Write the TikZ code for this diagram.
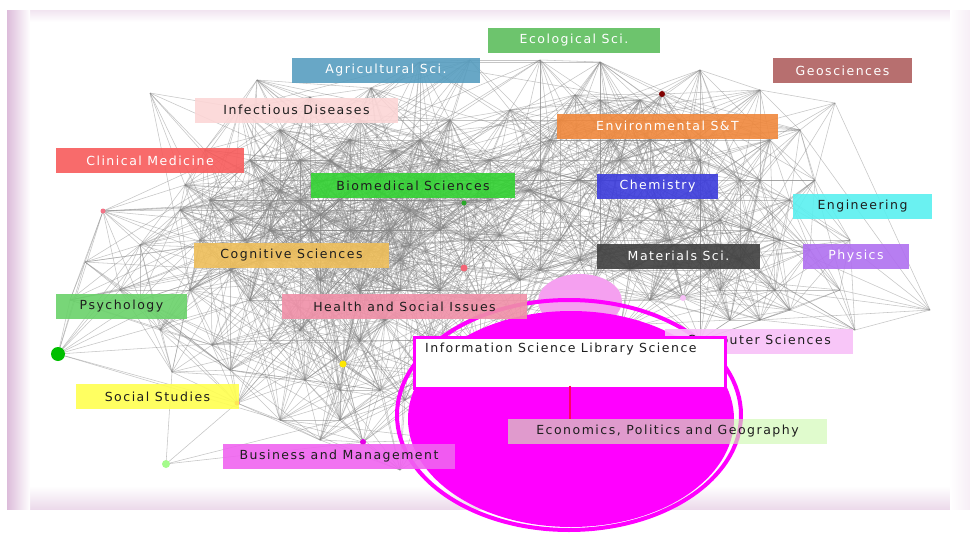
\documentclass[tikz,border=0pt]{standalone}
\usepackage{fontspec}
\usepackage{xcolor}
\usepackage{tikz}
\newfontfamily\tagfont{DejaVu Sans}[LetterSpace=12]
\definecolor{framepink}{RGB}{220,188,218}
\definecolor{ecogreen}{RGB}{94,190,94}
\definecolor{agriblue}{RGB}{88,158,192}
\definecolor{geored}{RGB}{176,96,96}
\definecolor{infectpink}{RGB}{252,214,214}
\definecolor{envorange}{RGB}{240,136,60}
\definecolor{clinred}{RGB}{248,92,92}
\definecolor{biogreen}{RGB}{50,210,50}
\definecolor{chemblue}{RGB}{60,60,220}
\definecolor{engcyan}{RGB}{90,240,240}
\definecolor{cognyellow}{RGB}{238,190,90}
\definecolor{matgray}{RGB}{64,64,64}
\definecolor{physpurple}{RGB}{176,112,240}
\definecolor{psychgreen}{RGB}{106,210,106}
\definecolor{healthpink}{RGB}{240,144,168}
\definecolor{complilac}{RGB}{248,192,248}
\definecolor{socyellow}{RGB}{255,255,80}
\definecolor{econgreen}{RGB}{205,250,175}
\definecolor{busmagenta}{RGB}{240,100,240}
\definecolor{hotmagenta}{RGB}{255,0,255}
\definecolor{blobpink}{RGB}{245,160,240}
\definecolor{tagtext}{RGB}{30,30,30}

\tikzset{
  link/.style={draw=gray!95, line width=0.55pt, opacity=0.48},
  tag/.style={inner sep=0pt, minimum height=25, text=tagtext,
    font=\tagfont\fontsize{12.5}{14}\selectfont, fill opacity=0.9, text opacity=1},
  dot/.style={circle, inner sep=0pt},
}

\begin{document}
\begin{tikzpicture}[x=1pt, y=-1pt]
    \useasboundingbox (0,0) rectangle (970,533);
    \fill[white] (0,0) rectangle (970,533);
    % soft frame
    \shade[top color=framepink!40, bottom color=white] (7,10) rectangle (970,22);
    \shade[top color=white, bottom color=framepink!55] (7,486) rectangle (970,509);
    \shade[left color=white, right color=framepink!25] (950,10) rectangle (970,509);
    \shade[left color=framepink, right color=white] (7,10) rectangle (30,509);

    % network
    \def\vlist{58/354,70/300,85/262,103/211,120/290,140/245,150/93,160/330,172/372,166/464,
      185/185,190/290,200/240,205/150,212/345,230/220,237/403,240/108,250/300,257/80,
      262/180,270/340,280/130,290/250,300/200,305/380,310/97,320/300,330/160,340/420,
      343/364,350/230,360/120,363/442,371/88,380/200,385/320,395/150,400/260,405/400,
      420/62,425/180,430/340,440/230,450/120,455/380,464/203,464/268,470/60,480/300,
      490/160,500/235,510/110,520/280,530/190,540/60,550/140,560/240,575/95,580/180,
      590/290,600/62,610/140,620/220,630/270,640/100,650/180,662/94,670/240,683/298,
      690/140,700/70,700/200,710/270,720/120,730/320,740/180,750/230,760/90,770/140,
      775/290,790/200,800/130,810/250,815/180,835/103,840/290,850/240,930/310,855/330,
      700/340,620/330,480/350,520/330,450/440,400/470,270/230,330/260,250/160,360/180,
      420/140,560/200,600/180,650/140,700/160,740/260,600/250,180/210,140/300,230/370,
      280/190,310/230,340/200,370/250,390/230,410/210,440/160,470/240,490/200,350/140,
      300/160,260/260,230/270,210/200,320/280,360/290,400/290,440/290,300/330,360/340,
      420/370,380/390,340/390,280/420,320/440,620/160,660/210,700/230,720/290,760/320,
      780/240,680/120,630/120,600/100,560/120,540/170,540/270,580/260,650/300,760/180,
      720/220,790/310,320/215,380/170,430/200,270/205,245/240,350/265,410/245,480/180}
    \foreach \x/\y [count=\i] in \vlist \coordinate (v\i) at (\x,\y);
    \pgfmathsetseed{7}
    \foreach \ax/\ay [count=\i] in \vlist {
      \foreach \bx/\by [count=\j] in \vlist {
        \ifnum\j>\i
          \pgfmathsetmacro\dd{veclen((\bx-\ax)/10,(\by-\ay)/10)}
          \pgfmathsetmacro\rr{rnd}
          \pgfmathtruncatemacro\ok{(\dd<10) || (\dd<24 && \rr<0.17) ? 1 : 0}
          \ifnum\ok=1 \draw[link] (v\i) -- (v\j);\fi
        \fi
      }
    }

    % vertices that show
    \node[dot, fill=green!75!black, minimum size=14] (psychdot) at (58,354) {};
    \node[dot, fill=healthpink!80!red, minimum size=5] (clindot) at (103,211) {};
    \node[dot, fill=healthpink!70!red, minimum size=7] (healthdot) at (464,268) {};
    \node[dot, fill=biogreen!80!black, minimum size=5] (biodot) at (464,203) {};
    \node[dot, fill=red!50!black, minimum size=6] (geodot) at (662,94) {};
    \node[dot, fill=yellow!90!orange, minimum size=7] (socdot) at (343,364) {};
    \node[dot, fill=econgreen!80!green, minimum size=8] (econdot) at (166,464) {};
    \node[dot, fill=magenta!80!red, minimum size=5] (busdot) at (237,403) {};
    \node[dot, fill=hotmagenta!90!black, minimum size=6] (busdot2) at (363,442) {};
    \node[dot, fill=complilac, minimum size=6] (compdot) at (683,298) {};

    % big circle
    \fill[blobpink] (580,301) ellipse [x radius=42, y radius=27];
    \draw[hotmagenta, line width=4] (569,415) ellipse [x radius=172, y radius=115];
    \fill[hotmagenta] (571,419) ellipse [x radius=163, y radius=108];

    % labels
    \node[tag, fill=ecogreen, text=white, minimum width=172] (eco) at (574,40) {Ecological Sci.};
    \node[tag, fill=agriblue, text=white, minimum width=188] (agri) at (386,70.5) {Agricultural Sci.};
    \node[tag, fill=geored, text=white, minimum width=139] (geo) at (842.5,70.5) {Geosciences};
    \node[tag, fill=infectpink, minimum width=203] (infect) at (296.5,110) {Infectious Diseases};
    \node[tag, fill=envorange, text=white, minimum width=221] (env) at (667.5,126) {Environmental S\&T};
    \node[tag, fill=clinred, text=white, minimum width=188] (clin) at (150,160.5) {Clinical Medicine};
    \node[tag, fill=biogreen, minimum width=204] (bio) at (413,185.5) {Biomedical Sciences};
    \node[tag, fill=chemblue, text=white, minimum width=121] (chem) at (657.5,186) {Chemistry};
    \node[tag, fill=engcyan, minimum width=139] (eng) at (862.5,206) {Engineering};
    \node[tag, fill=cognyellow, minimum width=195] (cogn) at (291.5,255.5) {Cognitive Sciences};
    \node[tag, fill=matgray, text=white, minimum width=163] (mat) at (678.5,256) {Materials Sci.};
    \node[tag, fill=physpurple, text=white, minimum width=106] (phys) at (856,256) {Physics};
    \node[tag, fill=psychgreen, minimum width=131] (psych) at (121.5,306.5) {Psychology};
    \node[tag, fill=healthpink, minimum width=245] (health) at (404.5,306.5) {Health and Social Issues};
    \node[tag, fill=complilac, minimum width=188] (comp) at (759,341.5) {Computer Sciences};
    \node[tag, fill=socyellow, minimum width=163] (soc) at (157.5,396.5) {Social Studies};
    \node[tag, fill=econgreen, fill opacity=0.62, minimum width=319] (econ) at (667.5,431.5) {Economics, Politics and Geography};
    \node[tag, fill=busmagenta, minimum width=232] (bus) at (339,456.5) {Business and Management};

    % selected field
    \node[draw=hotmagenta, line width=3, fill=white, inner sep=0pt, minimum width=311, minimum height=51] (info) at (570,362.5) {};
    \node[anchor=west, inner sep=0pt, text=tagtext, font=\tagfont\fontsize{12.5}{14}\selectfont] (infotext) at (425,349) {Information Science Library Science};
    \draw[red!60!magenta, line width=1.2] (info.south) ++(0,-4) -- (info.south |- econ.north);
\end{tikzpicture}
\end{document}
